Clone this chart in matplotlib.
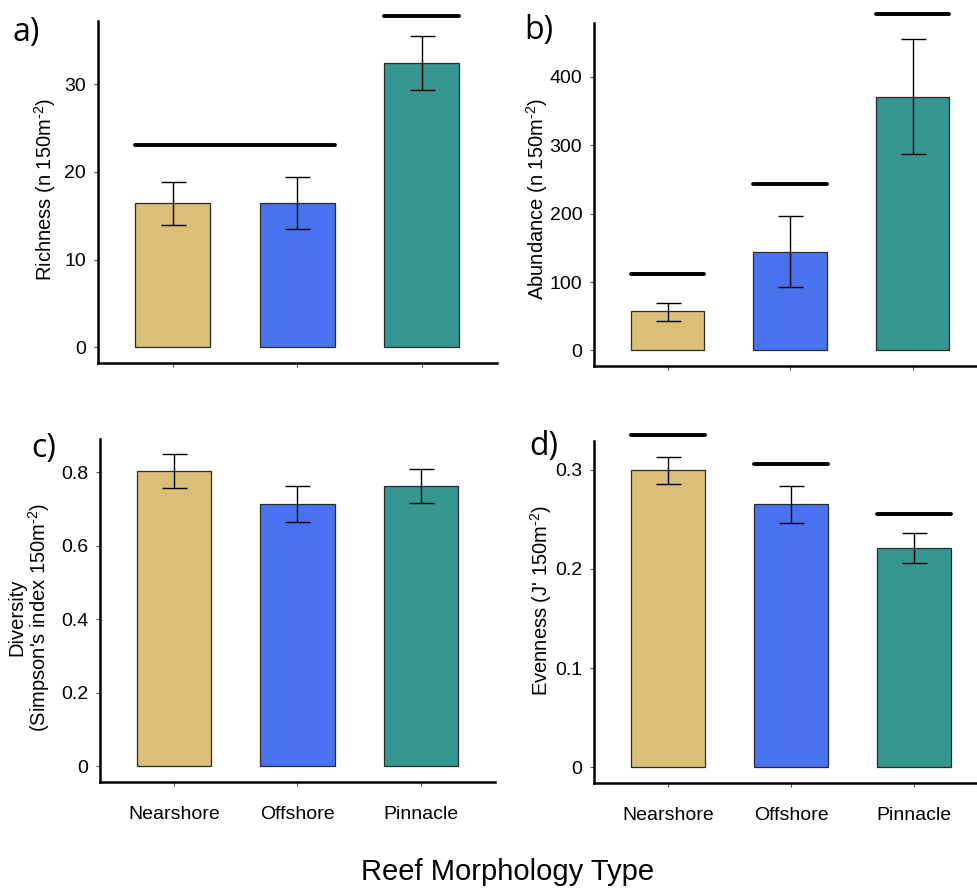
import matplotlib
matplotlib.use("Agg")
import matplotlib.pyplot as plt

plt.rcParams['font.family'] = ['Liberation Sans', 'DejaVu Sans']
plt.rcParams['mathtext.fontset'] = 'custom'
plt.rcParams['mathtext.rm'] = 'Liberation Sans'
plt.rcParams['mathtext.it'] = 'Liberation Sans:italic'
plt.rcParams['mathtext.bf'] = 'Liberation Sans:bold'

# ---------------- data ----------------
categories = ["Nearshore", "Offshore", "Pinnacle"]
colors = ["#DBBF78", "#4972EE", "#35978F"]

richness_mean = [16.4, 16.5, 32.4]
richness_lo = [13.9, 13.5, 29.3]
richness_hi = [18.8, 19.4, 35.5]

abundance_mean = [57, 144, 371]
abundance_lo = [43, 93, 287]
abundance_hi = [70, 196, 456]

diversity_mean = [0.803, 0.714, 0.762]
diversity_lo = [0.758, 0.664, 0.717]
diversity_hi = [0.848, 0.763, 0.808]

evenness_mean = [0.299, 0.265, 0.221]
evenness_lo = [0.285, 0.2465, 0.206]
evenness_hi = [0.313, 0.283, 0.2357]

# significance group lines (start category, end category, height)
richness_sig_start = [0, 2]
richness_sig_end = [1, 2]
richness_sig_y = [23.1, 37.8]

abundance_sig_start = [0, 1, 2]
abundance_sig_end = [0, 1, 2]
abundance_sig_y = [112, 244, 492]

evenness_sig_start = [0, 1, 2]
evenness_sig_end = [0, 1, 2]
evenness_sig_y = [0.335, 0.3055, 0.255]

richness_ticks = [0, 10, 20, 30]
abundance_ticks = [0, 100, 200, 300, 400]
diversity_ticks = [0, 0.2, 0.4, 0.6, 0.8]
diversity_ticklabels = ["0", "0.2", "0.4", "0.6", "0.8"]
evenness_ticks = [0, 0.1, 0.2, 0.3]
evenness_ticklabels = ["0", "0.1", "0.2", "0.3"]

# ---------------- figure ----------------
W, H = 978, 889
fig = plt.figure(figsize=(W / 100, H / 100), dpi=100)


def add_ax(l, r, t, b):
    return fig.add_axes([l / W, 1 - b / H, (r - l) / W, (b - t) / H])


def draw_panel(ax, means, lo, hi, ylim, ticks, ticklabels, show_x,
               sig_start=None, sig_end=None, sig_y=None):
    x = list(range(len(categories)))
    ax.bar(x, means, width=0.6, color=colors, edgecolor="#2b2b2b",
           linewidth=0.9, zorder=2)
    yerr = [[m - l for m, l in zip(means, lo)], [h - m for m, h in zip(means, hi)]]
    ax.errorbar(x, means, yerr=yerr, fmt="none", ecolor="black",
                elinewidth=1.0, capsize=9, capthick=1.0, zorder=3)
    if sig_y is not None:
        for s, e, y in zip(sig_start, sig_end, sig_y):
            ax.plot([s - 0.3, e + 0.3], [y, y], color="black", lw=2.8,
                    solid_capstyle="round", clip_on=False, zorder=4)
    ax.set_xlim(-0.6, 2.6)
    ax.set_ylim(*ylim)
    ax.set_yticks(ticks)
    ax.set_yticklabels(ticklabels)
    ax.set_xticks(x)
    if show_x:
        ax.set_xticklabels(categories)
    else:
        ax.set_xticklabels([])
    for side in ["top", "right"]:
        ax.spines[side].set_visible(False)
    for side in ["left", "bottom"]:
        ax.spines[side].set_linewidth(1.8)
        ax.spines[side].set_color("black")
    ax.tick_params(axis="y", length=3, width=0.8, color="#555555",
                   labelsize=14, pad=5.5, labelcolor="black")
    ax.tick_params(axis="x", length=3, width=0.8, color="#555555",
                   labelsize=14, pad=14, labelcolor="black")
    ax.set_facecolor("none")


ax_a = add_ax(98, 496.5, 21, 363)
draw_panel(ax_a, richness_mean, richness_lo, richness_hi, (-1.8, 37.2),
           richness_ticks, [str(t) for t in richness_ticks], False,
           richness_sig_start, richness_sig_end, richness_sig_y)

ax_b = add_ax(594, 986, 23, 366)
draw_panel(ax_b, abundance_mean, abundance_lo, abundance_hi, (-22.8, 478.8),
           abundance_ticks, [str(t) for t in abundance_ticks], False,
           abundance_sig_start, abundance_sig_end, abundance_sig_y)

ax_c = add_ax(100, 495, 439, 782)
draw_panel(ax_c, diversity_mean, diversity_lo, diversity_hi, (-0.0424, 0.890),
           diversity_ticks, diversity_ticklabels, True)

ax_d = add_ax(594, 988, 441, 783)
draw_panel(ax_d, evenness_mean, evenness_lo, evenness_hi, (-0.0157, 0.3287),
           evenness_ticks, evenness_ticklabels, True,
           evenness_sig_start, evenness_sig_end, evenness_sig_y)


def ftext(px, py, s, **kw):
    fig.text(px / W, 1 - py / H, s, **kw)


sup = r"$^{\mathrm{\u2010}2}$".replace("\\u2010", "\u2010")

# y-axis labels
ftext(45, 190, "Richness (n 150m" + sup + ")", rotation=90, ha="center", va="center", fontsize=14.5)
ftext(537, 199, "Abundance (n 150m" + sup + ")", rotation=90, ha="center", va="center", fontsize=14.5)
ftext(30, 617, "Diversity\n(Simpson's index 150m" + sup + ")", rotation=90,
      ha="center", va="center", fontsize=14.5, linespacing=1.0)
ftext(541, 600, "Evenness (J' 150m" + sup + ")", rotation=90, ha="center", va="center", fontsize=14.5)

# panel letters
letter_font = dict(fontsize=23, family=["Open Sans", "DejaVu Sans"], ha="left", va="center")
ftext(13, 33, "a)", **letter_font)
ftext(524, 30, "b)", **letter_font)
ftext(31, 449, "c)", **letter_font)
ftext(529, 447, "d)", **letter_font)

# common x-axis title
ftext(508, 872, "Reef Morphology Type", ha="center", va="center", fontsize=21)

fig.savefig("out.png", dpi=100)
